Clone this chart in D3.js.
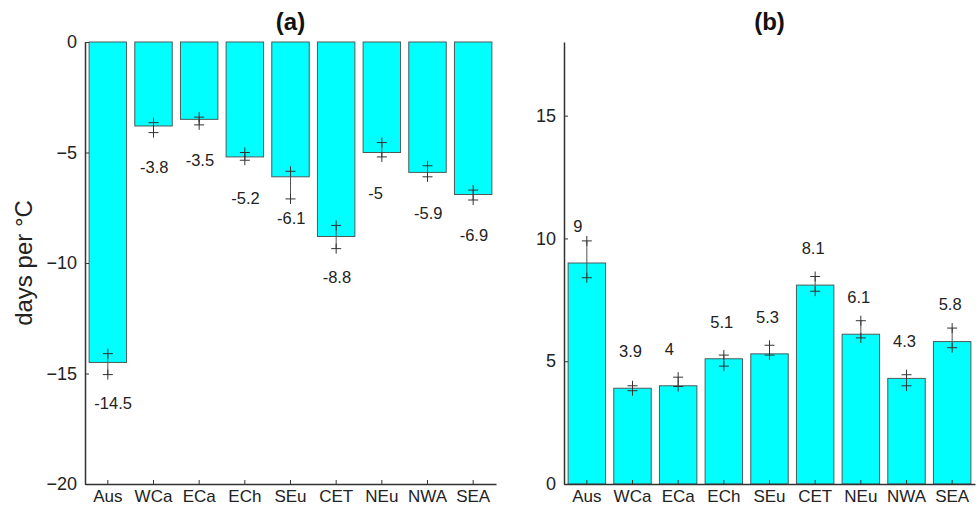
<!DOCTYPE html>
<html>
<head>
<meta charset="utf-8">
<script src="https://cdn.jsdelivr.net/npm/d3@7"></script>
<style>
  body { margin: 0; background: #fff; }
  svg { display: block; font-family: "Liberation Sans", Arial, sans-serif; }
  .axis path, .axis line { stroke: #333; }
  .axis text { fill: #222; font-size: 17px; }
  .axis.yax text { font-size: 18px; }
</style>
</head>
<body>
<div id="chart"></div>
<script>
// Regions
var categories = ["Aus", "WCa", "ECa", "ECh", "SEu", "CET", "NEu", "NWA", "SEA"];

// Panel (a) values and error bar ends
var valuesA = [-14.5, -3.8, -3.5, -5.2, -6.1, -8.8, -5, -5.9, -6.9];
var errHiA  = [-14.1, -3.65, -3.4, -5.0, -5.85, -8.3, -4.55, -5.6, -6.7];
var errLoA  = [-15.05, -4.1, -3.75, -5.35, -7.1, -9.35, -5.2, -6.1, -7.15];
var ticksA  = [0, -5, -10, -15, -20];

// Panel (b) values and error bar ends
var valuesB = [9, 3.9, 4, 5.1, 5.3, 8.1, 6.1, 4.3, 5.8];
var errHiB  = [9.9, 4.0, 4.35, 5.25, 5.65, 8.45, 6.65, 4.45, 6.35];
var errLoB  = [8.4, 3.8, 3.97, 4.8, 5.25, 7.85, 5.95, 4.0, 5.55];
var ticksB  = [0, 5, 10, 15];

var W = 979, H = 509;
var svg = d3.select("#chart").append("svg")
  .attr("width", W).attr("height", H);

var plotTop = 42, plotH = 442, plotW = 411;

function panel(opts) {
  var g = svg.append("g")
    .attr("transform", "translate(" + opts.left + "," + plotTop + ")");

  var x = d3.scaleBand()
    .domain(categories)
    .range([0, plotW])
    .paddingInner(0.18)
    .paddingOuter(0.09);

  var y = d3.scaleLinear()
    .domain(opts.domain)
    .range([plotH, 0]);

  var data = categories.map(function(c, i) {
    return {cat: c, v: opts.values[i], hi: opts.hi[i], lo: opts.lo[i]};
  });

  // bars
  g.selectAll("rect.bar")
    .data(data)
    .enter().append("rect")
    .attr("class", "bar")
    .attr("x", function(d) { return x(d.cat); })
    .attr("width", x.bandwidth())
    .attr("y", function(d) { return Math.min(y(0), y(d.v)); })
    .attr("height", function(d) { return Math.abs(y(d.v) - y(0)); })
    .style("fill", "#00ffff")
    .style("stroke", "#4d5a5a")
    .style("stroke-width", 1);

  // error bars
  var eb = g.selectAll("g.err")
    .data(data)
    .enter().append("g")
    .attr("class", "err")
    .attr("transform", function(d) { return "translate(" + (x(d.cat) + x.bandwidth() / 2) + ",0)"; });

  eb.append("line")
    .attr("y1", function(d) { return y(d.hi); })
    .attr("y2", function(d) { return y(d.lo); })
    .style("stroke", "#555")
    .style("stroke-width", 1);

  ["hi", "lo"].forEach(function(k) {
    eb.append("line")
      .attr("x1", -5).attr("x2", 5)
      .attr("y1", function(d) { return y(d[k]); })
      .attr("y2", function(d) { return y(d[k]); })
      .style("stroke", "#333").style("stroke-width", 1);
    eb.append("line")
      .attr("y1", function(d) { return y(d[k]) - 5; })
      .attr("y2", function(d) { return y(d[k]) + 5; })
      .style("stroke", "#333").style("stroke-width", 1);
  });

  // value labels
  g.selectAll("text.val")
    .data(data)
    .enter().append("text")
    .attr("class", "val")
    .attr("x", function(d) { return x(d.cat) + x.bandwidth() / 2 - 13.5; })
    .attr("y", function(d) { return y(d.v) + opts.labelOffset; })
    .attr("dy", "0.35em")
    .style("font-size", "16.5px")
    .style("fill", "#222")
    .text(function(d) { return String(d.v); });

  // axes
  g.append("g")
    .attr("class", "axis")
    .attr("transform", "translate(0," + plotH + ")")
    .call(d3.axisBottom(x).tickSizeInner(-4).tickSizeOuter(0).tickPadding(6))
    .select(".domain").style("stroke-width", 1.5);

  g.append("g")
    .attr("class", "axis yax")
    .call(d3.axisLeft(y).tickValues(opts.ticks).tickFormat(d3.format("d"))
      .tickSizeInner(-4).tickSizeOuter(0).tickPadding(8))
    .select(".domain").style("stroke-width", 1.5);

  // title
  g.append("text")
    .attr("x", plotW / 2)
    .attr("y", -12)
    .attr("text-anchor", "middle")
    .style("font-size", "24px")
    .style("font-weight", "bold")
    .style("fill", "#111")
    .text(opts.title);

  return g;
}

panel({left: 85, domain: [-20, 0], values: valuesA, hi: errHiA, lo: errLoA,
       ticks: ticksA, labelOffset: 41, title: "(a)"});
panel({left: 564, domain: [0, 18], values: valuesB, hi: errHiB, lo: errLoB,
       ticks: ticksB, labelOffset: -37, title: "(b)"});

// y label
svg.append("text")
  .attr("transform", "translate(32," + (plotTop + plotH / 2) + ") rotate(-90)")
  .attr("text-anchor", "middle")
  .style("font-size", "24px")
  .style("fill", "#222")
  .text("days per °C");
</script>
</body>
</html>
